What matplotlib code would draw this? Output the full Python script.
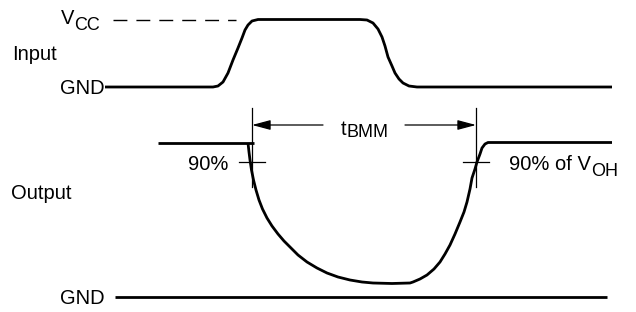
import matplotlib
matplotlib.use('Agg')
import matplotlib.pyplot as plt

plt.rcParams['font.family'] = ['Liberation Sans', 'DejaVu Sans']

# WAVEFORMS (pixel positions, y grows downward)
# ------------------------------------------------------------------
input_x = [105, 213, 218, 223, 228, 233, 238, 242, 245, 248, 252, 258,
           360, 367, 373, 378, 382, 385, 388, 392, 395, 399, 403, 409, 417, 612]
input_y = [87, 87, 86, 82, 73, 60, 48, 38, 30, 25, 21, 19.5,
           19.5, 20, 23, 29, 37, 46, 57, 66, 73, 79, 83, 86, 87, 87]

vcc_dash_x = [113, 236]
vcc_dash_y = [20, 20]

out_high_left_x = [158, 254]
out_high_left_y = [143, 143]

out_x = [248, 249, 250, 251.5, 253.5, 256, 259, 262.5, 267, 272, 278, 284,
         290, 298, 307, 317, 327, 338, 350, 362, 373, 392, 410, 413, 420,
         427, 434, 440, 445, 450, 455, 460, 464, 467, 470, 472, 475, 477,
         480, 482, 485, 488, 612]
out_y = [143, 152, 160, 170, 180, 190, 200, 209, 218, 226, 234, 241,
         247, 255, 262, 268, 273, 277, 280, 282, 283, 283.5, 283, 282, 279,
         275, 269, 262, 254, 245, 234, 222, 212, 202, 189, 178, 169, 162,
         154, 148, 144, 142.5, 142.5]

gnd_out_x = [115, 607]
gnd_out_y = [297, 297]

# 90 % crossing points and t_BMM dimension
mark_x = [252, 476]
mark_y = 162
dim_top, dim_bot = 108, 187
arrow_y = 125
arrow_gap = [323, 405]   # ends of the arrow shafts next to the label

fig = plt.figure(figsize=(6.36, 3.12), dpi=100)
ax = fig.add_axes([0, 0, 1, 1])
ax.set_xlim(0, 636)
ax.set_ylim(312, 0)
ax.axis('off')

thick = dict(color='black', lw=2.0, solid_capstyle='butt', solid_joinstyle='round')
thin = dict(color='black', lw=0.9)

ax.plot(input_x, input_y, **thick)
ax.plot(vcc_dash_x, vcc_dash_y, color='black', lw=1.0, dashes=(10, 6.5))
ax.plot(out_high_left_x, out_high_left_y, **thick)
ax.plot(out_x, out_y, **thick)
ax.plot(gnd_out_x, gnd_out_y, **thick)

for mx in mark_x:
    ax.plot([mx, mx], [dim_top, dim_bot], **thin)
    ax.plot([mx - 13, mx + 13], [mark_y, mark_y], **thin)

arrow_props = dict(arrowstyle='-|>,head_length=0.75,head_width=0.2', mutation_scale=15,
                   color='black', lw=0.9, shrinkA=0, shrinkB=0)
ax.annotate('', xy=(mark_x[0], arrow_y), xytext=(arrow_gap[0], arrow_y), arrowprops=arrow_props)
ax.annotate('', xy=(mark_x[1], arrow_y), xytext=(arrow_gap[1], arrow_y), arrowprops=arrow_props)

FS = 14.5
SFS = 13


def label_sub(x, y, main, sub, drop):
    t = ax.text(x, y, main, fontsize=FS, ha='left', va='baseline')
    ax.annotate(sub, xy=(1, 0), xycoords=t, xytext=(0, -drop), textcoords='offset pixels',
                fontsize=SFS, ha='left', va='bottom')


ax.text(12, 60, 'Input', fontsize=FS, ha='left', va='baseline')
ax.text(105, 94.5, 'GND', fontsize=FS, ha='right', va='baseline')
ax.text(11, 199, 'Output', fontsize=FS, ha='left', va='baseline')
ax.text(105, 304, 'GND', fontsize=FS, ha='right', va='baseline')
ax.text(228, 170.5, '90%', fontsize=FS, ha='right', va='baseline')

label_sub(61, 24.5, 'V', 'CC', 6)
label_sub(509, 170.5, '90% of V', 'OH', 6)
label_sub(341, 135, 't', 'BMM', 2)

fig.savefig('out.png', dpi=100)
